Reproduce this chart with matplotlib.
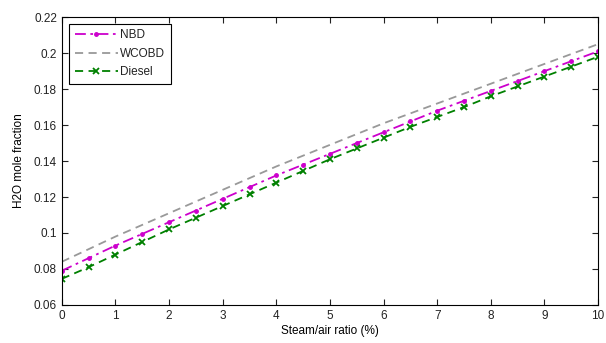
import numpy as np
import matplotlib.pyplot as plt

plt.rcParams['font.family'] = ['Liberation Sans', 'DejaVu Sans']
plt.rcParams['font.size'] = 8.5
plt.rcParams['text.color'] = '#222222'
plt.rcParams['xtick.color'] = '#222222'
plt.rcParams['ytick.color'] = '#222222'

# Steam/air ratio (%) and H2O mole fraction for each fuel
steam_air = [0, 0.5, 1, 1.5, 2, 2.5, 3, 3.5, 4, 4.5, 5, 5.5, 6, 6.5, 7, 7.5, 8, 8.5, 9, 9.5, 10]
nbd = [0.079, 0.086, 0.093, 0.0995, 0.106, 0.1125, 0.119, 0.1255, 0.132, 0.138, 0.144,
       0.150, 0.156, 0.162, 0.168, 0.1735, 0.179, 0.1845, 0.190, 0.1955, 0.201]
wcobd = [0.084, 0.091, 0.098, 0.1045, 0.111, 0.1175, 0.124, 0.1305, 0.137, 0.143, 0.149,
         0.155, 0.161, 0.1665, 0.172, 0.1775, 0.183, 0.1885, 0.194, 0.1995, 0.205]
diesel = [0.0745, 0.081, 0.088, 0.095, 0.102, 0.1085, 0.115, 0.1215, 0.128, 0.1345, 0.141,
          0.147, 0.153, 0.159, 0.1645, 0.170, 0.176, 0.1815, 0.187, 0.1925, 0.198]

fig = plt.figure(figsize=(6.06, 3.43), dpi=100)
ax = fig.add_axes([0.102, 0.111, 0.885, 0.839])

ax.plot(steam_air, nbd, color='#cc00cc', linestyle=(0, (6, 2.5, 1.5, 2.5)), marker='.',
        markersize=5, lw=1.3, label='NBD')
ax.plot(steam_air, wcobd, color='#999999', linestyle=(0, (4.5, 3)), lw=1.3, label='WCOBD')
ax.plot(steam_air, diesel, color='#008000', linestyle=(0, (4.5, 3)), marker='x', markersize=4,
        markeredgewidth=1.3, lw=1.3, label='Diesel')

ax.set_xlim(0, 10)
ax.set_ylim(0.06, 0.22)
ax.set_xticks(np.arange(0, 11, 1))
ax.set_yticks(np.arange(0.06, 0.2201, 0.02))
ax.set_yticklabels(['0.06', '0.08', '0.1', '0.12', '0.14', '0.16', '0.18', '0.2', '0.22'])
ax.tick_params(direction='in', top=True, right=True, length=4, labelsize=8.5)
ax.set_xlabel('Steam/air ratio (%)', labelpad=2)
ax.set_ylabel('H2O mole fraction', labelpad=6)

leg = ax.legend(loc='upper left', bbox_to_anchor=(0.007, 0.99), fancybox=False,
                edgecolor='black', framealpha=1, handlelength=3.6, handletextpad=0.2,
                borderaxespad=0.3, labelspacing=0.55, borderpad=0.5)
leg.get_frame().set_linewidth(0.8)

fig.savefig('out.png', dpi=100)
